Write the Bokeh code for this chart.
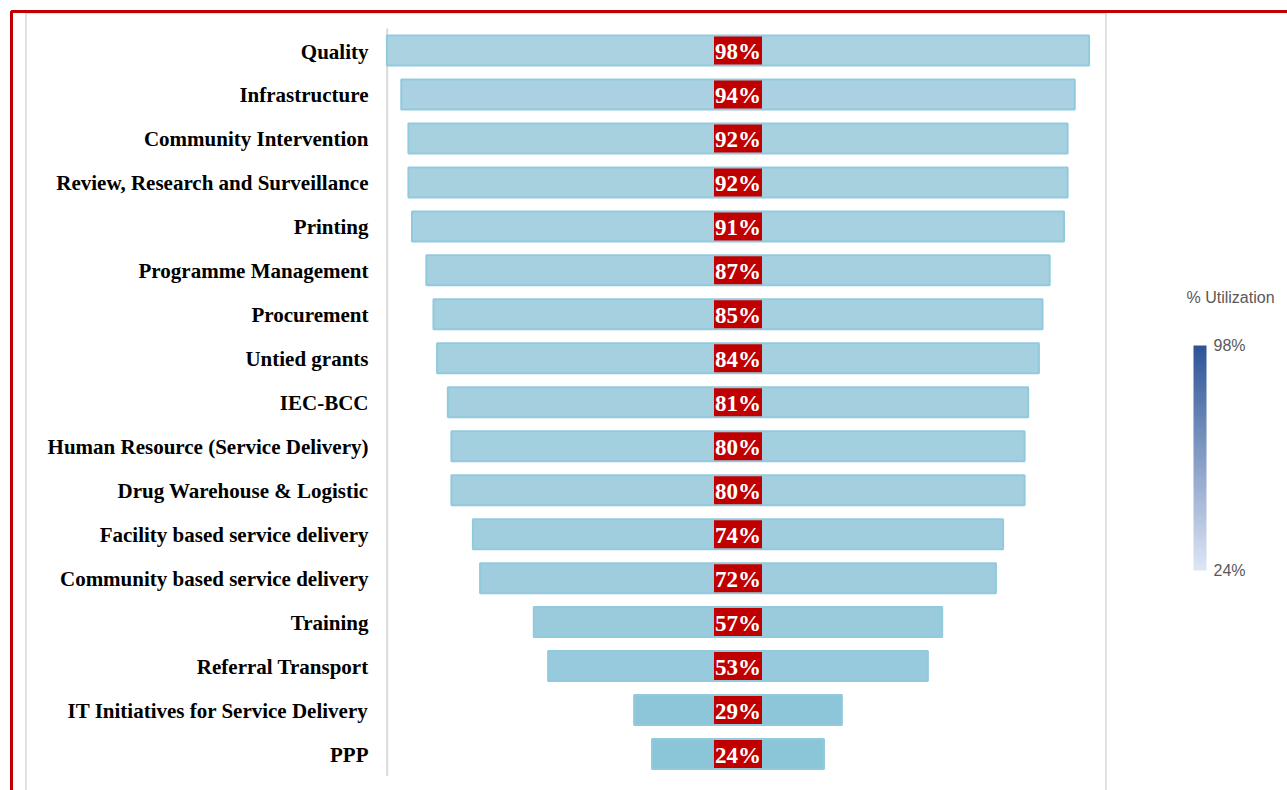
import numpy as np
from bokeh.plotting import figure
from bokeh.models import (ColumnDataSource, Range1d, LinearColorMapper, ColorBar,
                          FixedTicker, PrintfTickFormatter, BoxAnnotation)
from bokeh.transform import linear_cmap
from bokeh.core.properties import value
from bokeh.embed import file_html
from bokeh.resources import INLINE

# ---------------- data ----------------
categories = ["Quality", "Infrastructure", "Community Intervention",
              "Review, Research and Surveillance", "Printing",
              "Programme Management", "Procurement", "Untied grants", "IEC-BCC",
              "Human Resource (Service Delivery)", "Drug Warehouse & Logistic",
              "Facility based service delivery", "Community based service delivery",
              "Training", "Referral Transport", "IT Initiatives for Service Delivery",
              "PPP"]
utilization = [98, 94, 92, 92, 91, 87, 85, 84, 81, 80, 80, 74, 72, 57, 53, 29, 24]
legend_title = "% Utilization"

# ---------------- layout ----------------
W, H = 1287, 790
CX, SX = 737.5, 7.165        # screen px of x=0, px per %
CY0, SY = 50.0, 43.97        # screen px of first row, px per row
n = len(categories)

def xd(px):
    return (px - CX) / SX

def yd(py):
    return (n - 1) - (py - CY0) / SY

def ramp(c0, c1, k=64):
    a = np.array([int(c0[i:i + 2], 16) for i in (1, 3, 5)])
    b = np.array([int(c1[i:i + 2], 16) for i in (1, 3, 5)])
    return ["#%02x%02x%02x" % tuple((a + (b - a) * t).round().astype(int))
            for t in np.linspace(0, 1, k)]

ypos = [n - 1 - i for i in range(n)]
labels = [f"{v}%" for v in utilization]

src = ColumnDataSource(dict(
    cat=categories, v=utilization, y=ypos,
    left=[-v / 2 for v in utilization], right=[v / 2 for v in utilization],
    lab=labels, zero=[0] * n, lx=[xd(368)] * n))

p = figure(width=W, height=H, output_backend="svg", toolbar_location=None,
           x_range=Range1d(xd(0), xd(W)), y_range=Range1d(yd(H), yd(0)),
           min_border=0)
p.axis.visible = False
p.grid.visible = False
p.outline_line_color = None
p.background_fill_color = "white"
p.border_fill_color = "white"

# frames
p.add_layout(BoxAnnotation(left=xd(25.5), right=xd(1105.5), top=yd(12.5), bottom=yd(H + 20),
                           fill_alpha=0, line_color="#D9D9D9", line_alpha=1, line_width=1.5))
p.add_layout(BoxAnnotation(left=xd(11), right=xd(W + 20), top=yd(11), bottom=yd(H + 20),
                           fill_alpha=0, line_color="#C00000", line_alpha=1, line_width=3))

# axis line
p.segment(x0=[xd(386.7)], x1=[xd(386.7)], y0=[-0.5], y1=[n - 0.5],
          line_color="#D9D9D9", line_width=2)

# bars
bar_cmap = linear_cmap("v", ramp("#8BC5D8", "#AAD2E1"), low=min(utilization), high=max(utilization))
p.hbar(y="y", left="left", right="right", height=30 / SY, source=src,
       fill_color=bar_cmap, line_color="#92CADD", line_width=2)

# value boxes + labels
p.rect(x="zero", y="y", width=48, height=28, width_units="screen", height_units="screen",
       source=src, fill_color="#C00000", line_color=None)
p.text(x="zero", y="y", text="lab", source=src, text_align="center", text_baseline="middle",
       text_color="white", text_font=value("Liberation Serif"), text_font_style="bold",
       text_font_size="23px", y_offset=1)

# category labels
p.text(x="lx", y="y", text="cat", source=src, text_align="right", text_baseline="middle",
       text_color="black", text_font=value("Liberation Serif"), text_font_style="bold",
       text_font_size="21px", y_offset=1)

# colour legend
mapper = LinearColorMapper(palette=ramp("#DCE5F4", "#2F5597"),
                           low=min(utilization), high=max(utilization))
cb = ColorBar(color_mapper=mapper, orientation="vertical", width=13, height=225,
              location=(1193, H - 570), padding=0,
              ticker=FixedTicker(ticks=[min(utilization), max(utilization)]),
              formatter=PrintfTickFormatter(format="%d%%"),
              major_label_text_font="Liberation Sans",
              major_label_text_font_size="16px", major_label_text_color="#595959",
              label_standoff=7, major_tick_line_color=None, minor_tick_line_color=None,
              bar_line_color=None, border_line_color=None, background_fill_color=None)
p.add_layout(cb, "center")

p.text(x=[xd(1186)], y=[yd(297)], text=[legend_title], text_align="left",
       text_baseline="middle", text_color="#595959", text_font=value("Liberation Sans"),
       text_font_size="16px")

open("out.html", "w").write(file_html(p, INLINE))
